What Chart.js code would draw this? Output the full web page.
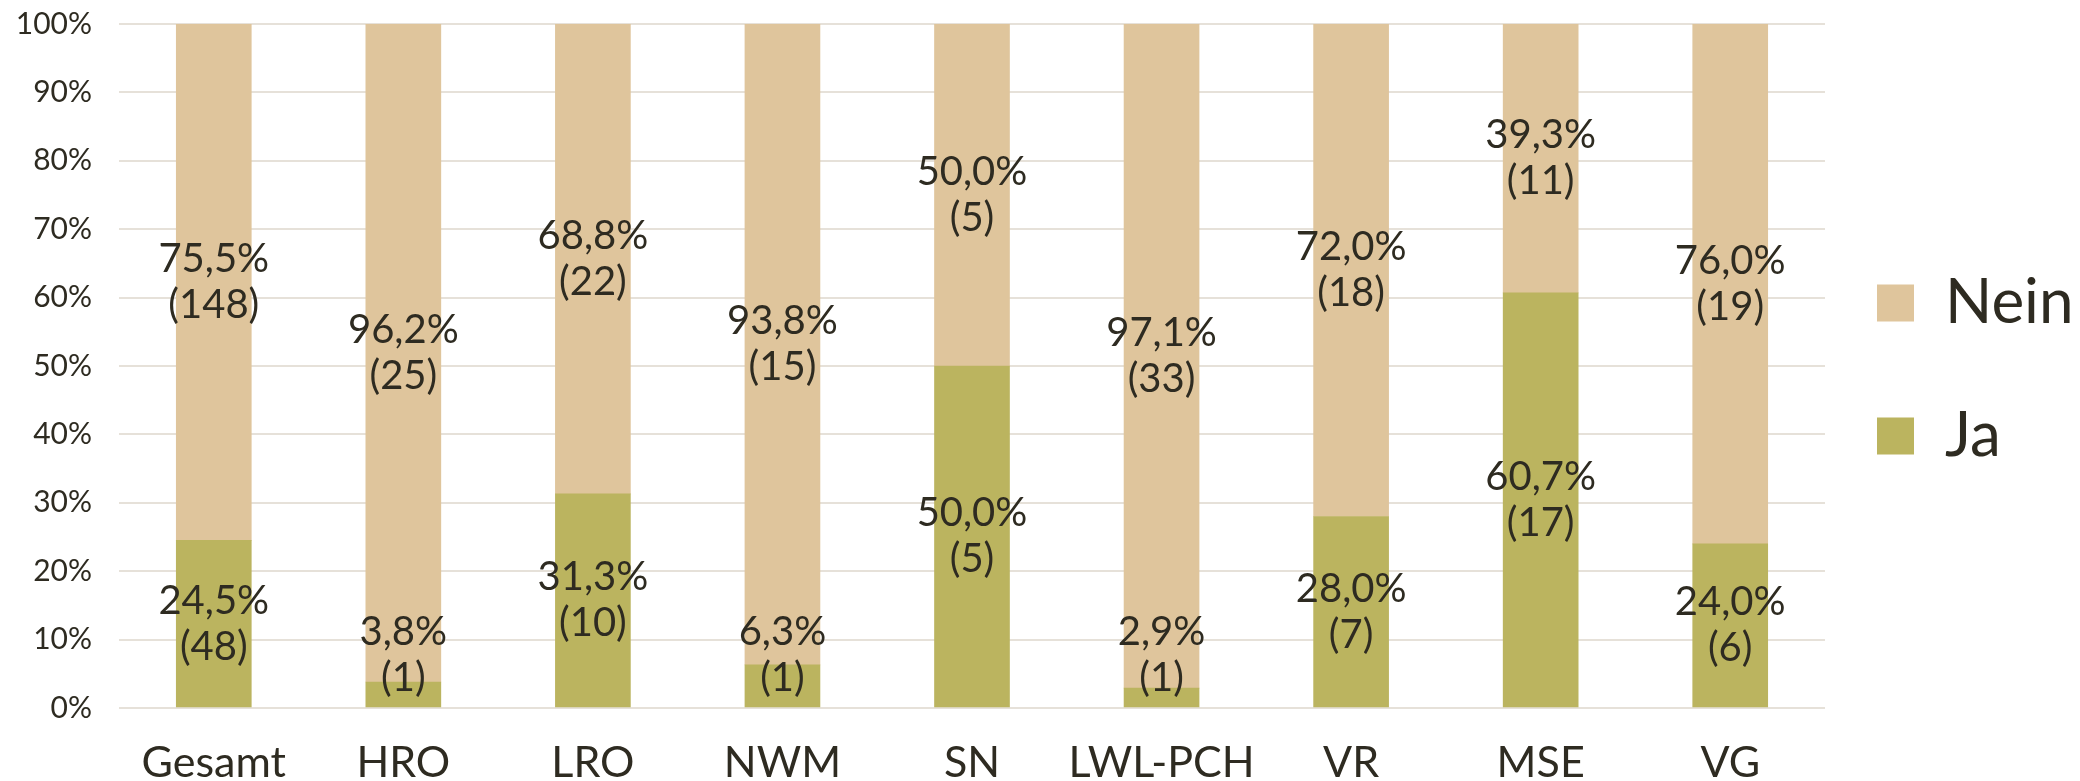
<!DOCTYPE html>
<html>
<head>
<meta charset="utf-8">
<script src="https://cdn.jsdelivr.net/npm/chart.js@4"></script>
<style>
  html, body { margin: 0; padding: 0; background: #fff; }
  #wrap { width: 2080px; height: 781px; }
</style>
</head>
<body>
<div id="wrap"><canvas id="jaNeinChart" width="2080" height="781"></canvas></div>
<script>
// categories and values
const regions = ['Gesamt', 'HRO', 'LRO', 'NWM', 'SN', 'LWL-PCH', 'VR', 'MSE', 'VG'];
const jaPct = [24.5, 3.8, 31.3, 6.3, 50.0, 2.9, 28.0, 60.7, 24.0];
const neinPct = [75.5, 96.2, 68.8, 93.8, 50.0, 97.1, 72.0, 39.3, 76.0];
const jaCount = [48, 1, 10, 1, 5, 1, 7, 17, 6];
const neinCount = [148, 25, 22, 15, 5, 33, 18, 11, 19];
const yTicks = [0, 10, 20, 30, 40, 50, 60, 70, 80, 90, 100];

const textColor = '#2e2b21';
const fontFamily = 'Lato, "Open Sans", sans-serif';

// draws "xx,x%" and "(n)" in the middle of every segment, kept inside the plot
const segmentLabels = {
    id: 'segmentLabels',
    afterDatasetsDraw(chart) {
        const ctx = chart.ctx;
        const area = chart.chartArea;
        const lineGap = 46;
        const half = 53;
        ctx.save();
        ctx.font = '40px ' + fontFamily;
        ctx.fillStyle = textColor;
        ctx.textAlign = 'center';
        ctx.textBaseline = 'middle';
        chart.data.datasets.forEach((ds, di) => {
            const meta = chart.getDatasetMeta(di);
            meta.data.forEach((bar, i) => {
                let yc = (bar.y + bar.base) / 2;
                yc = Math.min(Math.max(yc, area.top + half), area.bottom - half);
                const pct = ds.data[i].toFixed(1).replace('.', ',') + '%';
                ctx.fillText(pct, bar.x, yc - lineGap / 2);
                ctx.fillText('(' + ds.counts[i] + ')', bar.x, yc + lineGap / 2);
            });
        });
        ctx.restore();
    }
};

// nudge the legend a little, like the original (right edge stays so the text isn't clipped)
const legendShift = {
    id: 'legendShift',
    afterLayout(chart) {
        const lg = chart.legend;
        if (lg) {
            lg.top -= 33;
            lg.bottom -= 33;
            lg.left -= 19;
        }
    }
};

const ctx = document.getElementById('jaNeinChart').getContext('2d');

const jaNeinChart = new Chart(ctx, {
    type: 'bar',
    data: {
        labels: regions,
        datasets: [{
            label: 'Ja',
            data: jaPct,
            counts: jaCount,
            backgroundColor: '#bbb45f'
        }, {
            label: 'Nein',
            data: neinPct,
            counts: neinCount,
            backgroundColor: '#dfc59c'
        }]
    },
    options: {
        responsive: false,
        animation: false,
        layout: { padding: { top: 24, right: 0, bottom: 0, left: 0 } },
        datasets: {
            bar: { barThickness: 75 }
        },
        plugins: {
            legend: {
                position: 'right',
                reverse: true,
                maxWidth: 255,
                labels: {
                    boxWidth: 37,
                    boxHeight: 37,
                    padding: 71,
                    color: textColor,
                    font: { family: fontFamily, size: 62 }
                }
            },
            tooltip: { enabled: false }
        },
        scales: {
            x: {
                stacked: true,
                grid: { display: false },
                border: { display: false },
                ticks: {
                    color: textColor,
                    padding: 21,
                    autoSkip: false,
                    maxRotation: 0,
                    minRotation: 0,
                    font: { family: fontFamily, size: 43 }
                },
                afterFit(scale) { scale.height = 73; }
            },
            y: {
                stacked: true,
                min: 0,
                max: 100,
                afterBuildTicks(scale) { scale.ticks = yTicks.map(v => ({ value: v })); },
                grid: {
                    color: '#e6e1d9',
                    lineWidth: 2,
                    drawTicks: true,
                    tickLength: 24,
                    tickColor: 'rgba(0,0,0,0)'
                },
                border: { display: false },
                ticks: {
                    color: textColor,
                    padding: 3,
                    font: { family: fontFamily, size: 30 },
                    callback: v => v + '%'
                },
                afterFit(scale) { scale.width = 119; }
            }
        }
    },
    plugins: [segmentLabels, legendShift]
});
</script>
</body>
</html>
